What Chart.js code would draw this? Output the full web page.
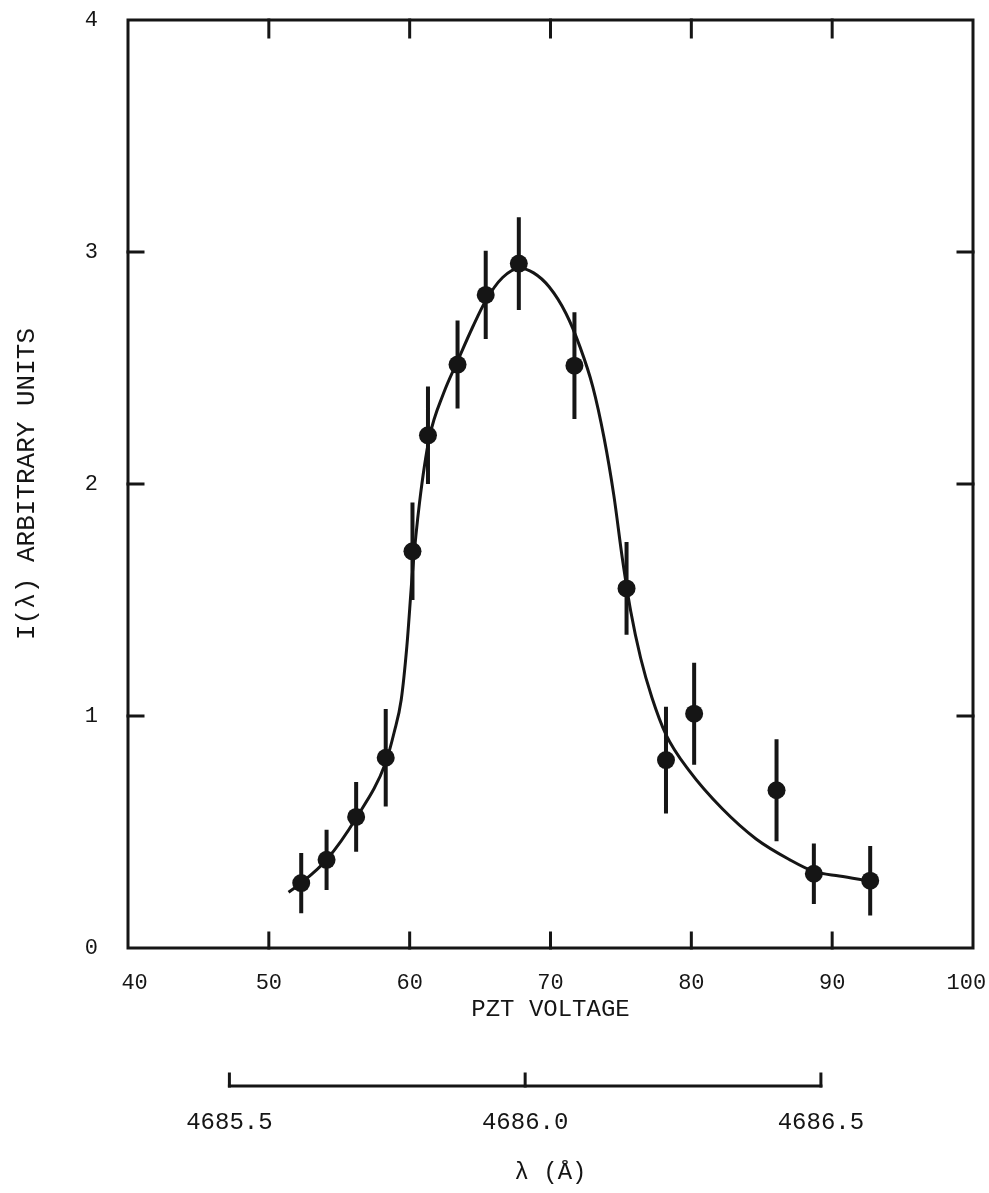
<!DOCTYPE html>
<html>
<head>
<meta charset="utf-8">
<script src="https://cdn.jsdelivr.net/npm/chart.js@4/dist/chart.umd.min.js"></script>
<style>
  body { margin: 0; background: #fff; }
  #wrap { width: 989px; height: 1193px; position: relative; }
</style>
</head>
<body>
<div id="wrap"><canvas id="myChart"></canvas></div>
<script>
// measured points (PZT voltage, intensity, error half-width)
let pztVoltage = [52.3, 54.1, 56.2, 58.3, 60.2, 61.3, 63.4, 65.4, 67.75, 71.7, 75.4, 78.2, 80.2, 86.05, 88.7, 92.7];
let intensity = [0.28, 0.38, 0.565, 0.82, 1.71, 2.21, 2.515, 2.815, 2.95, 2.51, 1.55, 0.81, 1.01, 0.68, 0.32, 0.29];
let intensityErr = [0.13, 0.13, 0.15, 0.21, 0.21, 0.21, 0.19, 0.19, 0.2, 0.23, 0.2, 0.23, 0.22, 0.22, 0.13, 0.15];

// fitted curve
let fitX = [51.4, 52.3, 54.1, 56.2, 58.3, 58.9, 59.4, 59.8, 60.2, 60.7, 61.4, 62.4, 63.4, 64.5, 65.4, 66.6, 67.8, 68.8, 69.9, 71.1, 72.1, 73.0, 73.8, 74.5, 75.1, 75.7, 76.4, 77.2, 78.2, 79.9, 82.2, 84.6, 87.0, 88.7, 90.5, 92.6];
let fitY = [0.24, 0.28, 0.38, 0.56, 0.8, 0.93, 1.07, 1.3, 1.62, 1.92, 2.2, 2.39, 2.53, 2.68, 2.79, 2.89, 2.93, 2.91, 2.85, 2.735, 2.59, 2.42, 2.2, 1.95, 1.68, 1.45, 1.25, 1.08, 0.92, 0.76, 0.6, 0.47, 0.38, 0.33, 0.31, 0.29];

// wavelength scale under the plot: tick values and where they sit in PZT volts
let wlTicks = [4685.5, 4686.0, 4686.5];
let wlAtPzt = [47.2, 68.2, 89.2];

let xTicks = [40, 50, 60, 70, 80, 90, 100];
let yTicks = [0, 1, 2, 3, 4];

const FONT = "'Liberation Mono', 'Courier New', monospace";
const INK = "#151515";

// wavelength axis range that lines up with the PZT axis
let wlPerVolt = (wlTicks[2] - wlTicks[0]) / (wlAtPzt[2] - wlAtPzt[0]);
let wlMin = wlTicks[0] - (wlAtPzt[0] - xTicks[0]) * wlPerVolt;
let wlMax = wlTicks[0] + (xTicks[xTicks.length - 1] - wlAtPzt[0]) * wlPerVolt;

let points = pztVoltage.map((x, i) => ({ x: x, y: intensity[i] }));
let errBars = [];
pztVoltage.forEach((x, i) => {
  errBars.push({ x: x, y: intensity[i] - intensityErr[i] });
  errBars.push({ x: x, y: intensity[i] + intensityErr[i] });
  errBars.push({ x: x, y: null });
});
let fitLine = fitX.map((x, i) => ({ x: x, y: fitY[i] }));

function noPad(s) {
  s.paddingTop = 0;
  s.paddingBottom = 0;
  s.paddingLeft = 0;
  s.paddingRight = 0;
}

// frame with inward ticks on all four sides + the wavelength bar
const framePlugin = {
  id: "frame",
  afterDraw(chart) {
    const ctx = chart.ctx;
    const area = chart.chartArea;
    const xs = chart.scales.x;
    const ys = chart.scales.y;
    ctx.save();
    ctx.strokeStyle = INK;
    ctx.lineWidth = 3;
    ctx.lineCap = "square";
    ctx.strokeRect(area.left, area.top, area.right - area.left, area.bottom - area.top);

    xTicks.slice(1, -1).forEach((v) => {
      let px = xs.getPixelForValue(v);
      ctx.beginPath();
      ctx.moveTo(px, area.bottom);
      ctx.lineTo(px, area.bottom - 15);
      ctx.moveTo(px, area.top);
      ctx.lineTo(px, area.top + 17);
      ctx.stroke();
    });
    yTicks.slice(1, -1).forEach((v) => {
      let py = ys.getPixelForValue(v);
      ctx.beginPath();
      ctx.moveTo(area.left, py);
      ctx.lineTo(area.left + 15, py);
      ctx.moveTo(area.right, py);
      ctx.lineTo(area.right - 15, py);
      ctx.stroke();
    });

    // wavelength bar
    const wl = chart.scales.xl;
    let barY = wl.top + 48;
    let x0 = wl.getPixelForValue(wlTicks[0]);
    let x1 = wl.getPixelForValue(wlTicks[wlTicks.length - 1]);
    ctx.beginPath();
    ctx.moveTo(x0, barY);
    ctx.lineTo(x1, barY);
    ctx.stroke();
    wlTicks.forEach((v) => {
      let px = wl.getPixelForValue(v);
      ctx.beginPath();
      ctx.moveTo(px, barY);
      ctx.lineTo(px, barY - 12);
      ctx.stroke();
    });
    ctx.restore();
  },
};

const ctx = document.getElementById("myChart");
const myChart = new Chart(ctx, {
  type: "scatter",
  data: {
    datasets: [
      {
        label: "data",
        data: points,
        pointRadius: 9,
        pointBackgroundColor: INK,
        pointBorderColor: INK,
        pointBorderWidth: 0,
        showLine: false,
        order: 0,
      },
      {
        type: "line",
        label: "errors",
        data: errBars,
        borderColor: INK,
        borderWidth: 4,
        pointRadius: 0,
        spanGaps: false,
        fill: false,
        order: 1,
      },
      {
        type: "line",
        label: "fit",
        data: fitLine,
        borderColor: INK,
        borderWidth: 3,
        pointRadius: 0,
        cubicInterpolationMode: "monotone",
        fill: false,
        order: 2,
      },
    ],
  },
  options: {
    responsive: true,
    maintainAspectRatio: false,
    animation: false,
    layout: { padding: { top: 20, right: 16, left: 0, bottom: 0 } },
    plugins: {
      legend: { display: false },
      tooltip: { enabled: false },
    },
    scales: {
      x: {
        type: "linear",
        position: "bottom",
        weight: 0,
        min: 40,
        max: 100,
        offset: false,
        afterBuildTicks: (s) => { s.ticks = xTicks.map((v) => ({ value: v })); },
        afterFit: (s) => { s.height = 90; noPad(s); },
        grid: { display: false, drawTicks: false, offset: false },
        border: { display: false },
        ticks: {
          padding: 22,
          color: INK,
          font: { family: FONT, size: 22 },
          // the end labels sit a little inside the corners
          callback: (v) => (v === 100 ? "100 " : v === 40 ? " 40" : String(v)),
        },
        title: {
          display: true,
          text: "PZT VOLTAGE",
          color: INK,
          font: { family: FONT, size: 24 },
          padding: { top: 0, bottom: 14 },
        },
      },
      xl: {
        axis: "x",
        type: "linear",
        position: "bottom",
        weight: 1,
        min: wlMin,
        max: wlMax,
        afterBuildTicks: (s) => { s.ticks = wlTicks.map((v) => ({ value: v })); },
        afterFit: (s) => { s.height = 155; noPad(s); },
        grid: { display: false, drawTicks: false },
        border: { display: false },
        ticks: {
          padding: 70,
          color: INK,
          font: { family: FONT, size: 24 },
          callback: (v) => Number(v).toFixed(1),
        },
        title: {
          display: true,
          text: "λ (Å)",
          color: INK,
          font: { family: FONT, size: 24 },
          padding: { top: 0, bottom: 6 },
        },
      },
      y: {
        type: "linear",
        position: "left",
        min: 0,
        max: 4,
        afterBuildTicks: (s) => { s.ticks = yTicks.map((v) => ({ value: v })); },
        afterFit: (s) => { s.width = 128; noPad(s); },
        grid: { display: false, drawTicks: false },
        border: { display: false },
        ticks: {
          padding: 30,
          color: INK,
          font: { family: FONT, size: 22 },
        },
        title: {
          display: true,
          text: "I(λ) ARBITRARY UNITS",
          color: INK,
          font: { family: FONT, size: 26 },
          padding: { top: 12, bottom: 0 },
        },
      },
    },
  },
  plugins: [framePlugin],
});
</script>
</body>
</html>
